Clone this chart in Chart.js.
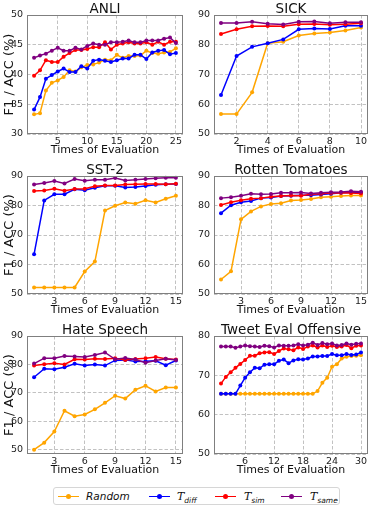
<!DOCTYPE html>
<html>
<head>
<meta charset="utf-8">
<script src="https://cdn.jsdelivr.net/npm/chart.js@4.4.0/dist/chart.umd.min.js"></script>
<style>
body { margin: 0; background: #fff; font-family: 'DejaVu Sans', sans-serif; }
#wrap { position: relative; width: 374px; height: 508px; overflow: hidden; }
.panel { position: absolute; width: 187px; height: 160px; }
.panel canvas { display: block; }
#legend { position: absolute; left: 53px; top: 487px; width: 285px; height: 16px;
  border: 1px solid #d6d6d6; border-radius: 3px; background: #fff; }
.swatch { position: absolute; top: 7.5px; width: 21px; height: 1.2px; }
.swatch span { position: absolute; left: 8px; top: -2px; width: 5px; height: 5px; border-radius: 50%; }
.lab { position: absolute; top: 0px; font-size: 10.5px; line-height: 16px; color: #111; font-style: italic; white-space: nowrap; }
.lab .t { font-family: 'DejaVu Serif', serif; font-size: 11px; }
.lab sub { font-size: 7.5px; vertical-align: -3px; }
</style>
</head>
<body>
<div id="wrap">
  <div class="panel" style="left:0;top:0"><canvas id="c1" width="187" height="160"></canvas></div>
  <div class="panel" style="left:187px;top:0"><canvas id="c2" width="187" height="160"></canvas></div>
  <div class="panel" style="left:0;top:160px"><canvas id="c3" width="187" height="160"></canvas></div>
  <div class="panel" style="left:187px;top:160px"><canvas id="c4" width="187" height="160"></canvas></div>
  <div class="panel" style="left:0;top:320px"><canvas id="c5" width="187" height="160"></canvas></div>
  <div class="panel" style="left:187px;top:320px"><canvas id="c6" width="187" height="160"></canvas></div>
  <div id="legend"></div>
</div>
<script>
//<![CDATA[

let seriesLabels = ['Random', 'T_diff', 'T_sim', 'T_same'];
let seriesColors = ['#ffa500', '#0000ff', '#ff0000', '#800080'];

// ANLI
let anliRandom = [33.3, 33.5, 37.3, 38.6, 39.0, 39.6, 40.7, 40.5, 41.2, 41.6, 41.7, 42.0, 42.5, 42.4, 43.3, 42.8, 43.1, 43.1, 43.2, 44.0, 43.6, 43.5, 43.7, 43.8, 44.4];
let anliDiff = [34.1, 36.2, 39.3, 39.9, 40.5, 41.0, 40.4, 40.4, 41.4, 41.0, 42.3, 42.5, 42.3, 42.1, 42.4, 42.7, 42.7, 43.3, 43.3, 42.6, 43.7, 44.0, 44.1, 43.4, 43.6];
let anliSim = [39.8, 40.7, 42.4, 42.1, 42.1, 43.0, 43.6, 44.1, 44.1, 44.3, 44.6, 44.6, 45.4, 44.2, 45.0, 45.2, 45.4, 45.2, 45.2, 45.4, 45.0, 45.5, 45.0, 45.5, 45.5];
let anliSame = [42.8, 43.2, 43.5, 44.0, 44.5, 44.0, 44.0, 44.5, 44.2, 44.8, 45.2, 45.0, 45.0, 45.4, 45.4, 45.5, 45.7, 45.4, 45.4, 45.7, 45.7, 45.7, 46.0, 46.2, 45.3];

// SICK
let sickRandom = [56.7, 56.7, 64.0, 80.5, 81.0, 83.1, 83.8, 84.1, 84.8, 85.8];
let sickDiff = [63.1, 76.2, 79.3, 80.5, 81.8, 85.2, 85.5, 85.3, 86.4, 86.4];
let sickSim = [83.6, 85.2, 86.2, 86.3, 86.2, 86.9, 87.0, 86.7, 86.9, 87.2];
let sickSame = [87.3, 87.3, 87.7, 87.1, 86.8, 87.7, 87.8, 87.2, 87.6, 87.6];

// SST-2
let sstRandom = [52.2, 52.2, 52.2, 52.2, 52.2, 57.6, 61.0, 78.3, 79.9, 81.0, 80.6, 81.8, 81.0, 82.3, 83.3];
let sstDiff = [63.5, 81.7, 83.8, 83.8, 85.5, 85.2, 86.0, 86.7, 86.7, 86.1, 86.3, 86.6, 87.0, 87.2, 87.3];
let sstSim = [84.9, 85.1, 85.7, 85.0, 85.6, 85.7, 86.5, 86.8, 86.8, 87.1, 87.2, 87.3, 87.3, 87.2, 87.4];
let sstSame = [87.1, 87.6, 88.3, 87.5, 89.0, 88.4, 88.7, 88.7, 89.3, 88.5, 88.7, 89.0, 89.2, 89.4, 89.4];

// Rotten Tomatoes
let rtRandom = [54.9, 57.7, 75.3, 78.0, 79.7, 80.5, 80.8, 81.7, 81.9, 82.2, 82.8, 83.0, 83.2, 83.4, 83.4];
let rtDiff = [77.4, 80.1, 81.1, 81.5, 82.5, 82.7, 83.2, 83.3, 83.5, 83.5, 83.7, 84.0, 84.3, 84.5, 84.4];
let rtSim = [80.2, 81.1, 81.8, 82.3, 82.5, 83.0, 83.2, 83.4, 83.3, 83.8, 84.0, 84.2, 84.3, 84.2, 84.1];
let rtSame = [82.5, 82.8, 83.3, 84.0, 83.8, 83.9, 84.3, 84.3, 84.4, 84.1, 84.3, 84.5, 84.6, 84.8, 84.7];

// Hate Speech
let hateRandom = [50.0, 52.5, 56.4, 63.7, 61.8, 62.4, 64.2, 66.5, 69.0, 68.0, 71.1, 72.5, 70.5, 71.9, 71.9];
let hateDiff = [75.5, 78.5, 78.3, 79.0, 80.2, 79.6, 80.0, 79.6, 81.4, 81.6, 81.0, 81.1, 81.3, 79.7, 81.4];
let hateSim = [79.6, 80.1, 80.4, 80.0, 81.8, 81.7, 82.0, 81.9, 82.2, 81.6, 81.9, 82.2, 82.6, 82.0, 81.7];
let hateSame = [80.3, 82.2, 82.2, 83.0, 82.8, 82.6, 83.3, 84.2, 81.8, 82.3, 81.7, 80.6, 81.4, 82.0, 81.6];

// Tweet Eval Offensive
let tweetRandom = [65.3, 65.3, 65.3, 65.3, 65.3, 65.3, 65.3, 65.3, 65.3, 65.3, 65.3, 65.3, 65.3, 65.3, 65.3, 65.3, 65.3, 65.3, 65.3, 65.3, 66.0, 68.1, 69.4, 72.2, 72.8, 74.3, 74.7, 74.9, 75.0, 75.1];
let tweetDiff = [65.3, 65.3, 65.3, 65.3, 67.4, 69.4, 70.8, 71.9, 71.8, 72.7, 72.8, 72.8, 73.7, 74.0, 73.1, 73.8, 74.1, 74.0, 74.3, 74.8, 74.8, 74.9, 74.9, 75.4, 75.1, 75.1, 75.4, 75.2, 75.3, 75.8];
let tweetSim = [67.9, 69.6, 70.8, 71.9, 72.9, 73.9, 75.0, 75.0, 75.6, 75.8, 75.9, 75.4, 76.2, 76.8, 76.6, 76.4, 77.1, 76.7, 77.3, 77.6, 77.1, 77.6, 77.2, 77.5, 77.2, 77.3, 77.7, 76.9, 77.5, 77.6];
let tweetSame = [77.3, 77.3, 77.3, 77.0, 77.3, 77.6, 77.4, 77.3, 77.2, 77.5, 77.4, 77.1, 77.6, 77.5, 77.5, 77.6, 77.9, 77.6, 77.8, 78.3, 77.7, 78.2, 77.9, 78.1, 77.6, 77.7, 78.1, 77.8, 78.0, 78.1];

// tick labels
let anliXTicks = [5, 10, 15, 20, 25];
let anliYTicks = [30, 35, 40, 45, 50];
let sickXTicks = [2, 4, 6, 8, 10];
let fifteenXTicks = [3, 6, 9, 12, 15];
let tweetXTicks = [6, 12, 18, 24, 30];
let tenStepYTicks = [50, 60, 70, 80, 90];
let tweetYTicks = [50, 60, 70, 80];

Chart.defaults.font.family = "'DejaVu Sans', sans-serif";

const framePlugin = {
    id: 'frame',
    afterDatasetsDraw(chart) {
        const a = chart.chartArea;
        const ctx = chart.ctx;
        ctx.save();
        ctx.strokeStyle = '#7f7f7f';
        ctx.lineWidth = 1;
        ctx.strokeRect(Math.round(a.left) + 0.5, Math.round(a.top) + 0.5,
            Math.round(a.right - a.left) - 1, Math.round(a.bottom - a.top) - 1);
        ctx.restore();
    }
};

const titlePlugin = {
    id: 'panelTitle',
    afterDraw(chart, args, opts) {
        const a = chart.chartArea;
        const ctx = chart.ctx;
        ctx.save();
        ctx.fillStyle = '#111';
        ctx.font = "13.5px 'DejaVu Sans', sans-serif";
        ctx.textAlign = 'center';
        ctx.textBaseline = 'alphabetic';
        ctx.fillText(opts.text, (a.left + a.right) / 2, a.top - 2.5);
        ctx.restore();
    }
};

function makeChart(p) {
    const datasets = p.series.map(function(vals, k) {
        return {
            label: seriesLabels[k],
            data: vals.map(function(v, i) { return {x: i + 1, y: v}; }),
            borderColor: seriesColors[k],
            backgroundColor: seriesColors[k],
            borderWidth: 1.5,
            pointRadius: 2,
            pointBorderWidth: 0,
            pointHoverRadius: 2,
            order: 4 - k,
            clip: false,
            tension: 0
        };
    });

    const gridOpts = { color: '#b3b3b3', lineWidth: 0.8, drawTicks: false };

    new Chart(document.getElementById(p.id), {
        type: 'line',
        data: { datasets: datasets },
        options: {
            responsive: false,
            animation: false,
            devicePixelRatio: 1,
            layout: { padding: { top: p.top, right: p.right, bottom: 0, left: 0 } },
            plugins: {
                legend: { display: false },
                tooltip: { enabled: false },
                panelTitle: { text: p.title }
            },
            scales: {
                x: {
                    type: 'linear',
                    min: p.xMin,
                    max: p.xMax,
                    afterBuildTicks: function(s) { s.ticks = p.xTicks.map(function(v) { return {value: v}; }); },
                    afterFit: function(s) { s.height = 26; },
                    grid: gridOpts,
                    border: { display: false, dash: [3.5, 2] },
                    ticks: { padding: 2, font: { size: 9.5 }, color: '#222', maxRotation: 0, autoSkip: false },
                    title: { display: true, text: 'Times of Evaluation', font: { size: 11 }, color: '#111', padding: { top: 0, bottom: 3 } }
                },
                y: {
                    type: 'linear',
                    min: p.yMin,
                    max: p.yMax,
                    afterBuildTicks: function(s) { s.ticks = p.yTicks.map(function(v) { return {value: v}; }); },
                    afterFit: function(s) { s.width = 27; },
                    grid: gridOpts,
                    border: { display: false, dash: [3.5, 2] },
                    ticks: { padding: 4, font: { size: 9.5 }, color: '#222', autoSkip: false },
                    title: { display: p.yTitle, text: 'F1 / ACC (%)', font: { size: 13 }, color: '#111', padding: { top: 1.5, bottom: 0 } }
                }
            }
        },
        plugins: [framePlugin, titlePlugin]
    });
}

let panels = [
    { id: 'c1', title: 'ANLI', series: [anliRandom, anliDiff, anliSim, anliSame], xMin: -0.2, xMax: 26.2, xTicks: anliXTicks, yMin: 30, yMax: 50, yTicks: anliYTicks, yTitle: true, top: 15, right: 4 },
    { id: 'c2', title: 'SICK', series: [sickRandom, sickDiff, sickSim, sickSame], xMin: 0.55, xMax: 10.45, xTicks: sickXTicks, yMin: 50, yMax: 90, yTicks: tenStepYTicks, yTitle: false, top: 15, right: 6 },
    { id: 'c3', title: 'SST-2', series: [sstRandom, sstDiff, sstSim, sstSame], xMin: 0.3, xMax: 15.7, xTicks: fifteenXTicks, yMin: 50, yMax: 90, yTicks: tenStepYTicks, yTitle: true, top: 16, right: 4 },
    { id: 'c4', title: 'Rotten Tomatoes', series: [rtRandom, rtDiff, rtSim, rtSame], xMin: 0.3, xMax: 15.7, xTicks: fifteenXTicks, yMin: 50, yMax: 90, yTicks: tenStepYTicks, yTitle: false, top: 16, right: 6 },
    { id: 'c5', title: 'Hate Speech', series: [hateRandom, hateDiff, hateSim, hateSame], xMin: 0.3, xMax: 15.7, xTicks: fifteenXTicks, yMin: 48.5, yMax: 90, yTicks: tenStepYTicks, yTitle: true, top: 16, right: 4 },
    { id: 'c6', title: 'Tweet Eval Offensive', series: [tweetRandom, tweetDiff, tweetSim, tweetSame], xMin: -0.45, xMax: 31.45, xTicks: tweetXTicks, yMin: 50, yMax: 80, yTicks: tweetYTicks, yTitle: false, top: 16, right: 6 }
];

panels.forEach(makeChart);

// legend
let legendItems = [
    { html: 'Random', swatchLeft: 4, textLeft: 32 },
    { html: '<span class="t">T</span><sub>diff</sub>', swatchLeft: 95, textLeft: 123 },
    { html: '<span class="t">T</span><sub>sim</sub>', swatchLeft: 161, textLeft: 190 },
    { html: '<span class="t">T</span><sub>same</sub>', swatchLeft: 227, textLeft: 256 }
];
let legend = document.getElementById('legend');
legendItems.forEach(function(item, k) {
    let sw = document.createElement('div');
    sw.className = 'swatch';
    sw.style.left = item.swatchLeft + 'px';
    sw.style.background = seriesColors[k];
    let dot = document.createElement('span');
    dot.style.background = seriesColors[k];
    sw.appendChild(dot);
    legend.appendChild(sw);
    let lab = document.createElement('div');
    lab.className = 'lab';
    lab.style.left = item.textLeft + 'px';
    lab.innerHTML = item.html;
    legend.appendChild(lab);
});

// ]]>
</script>
</body>
</html>
